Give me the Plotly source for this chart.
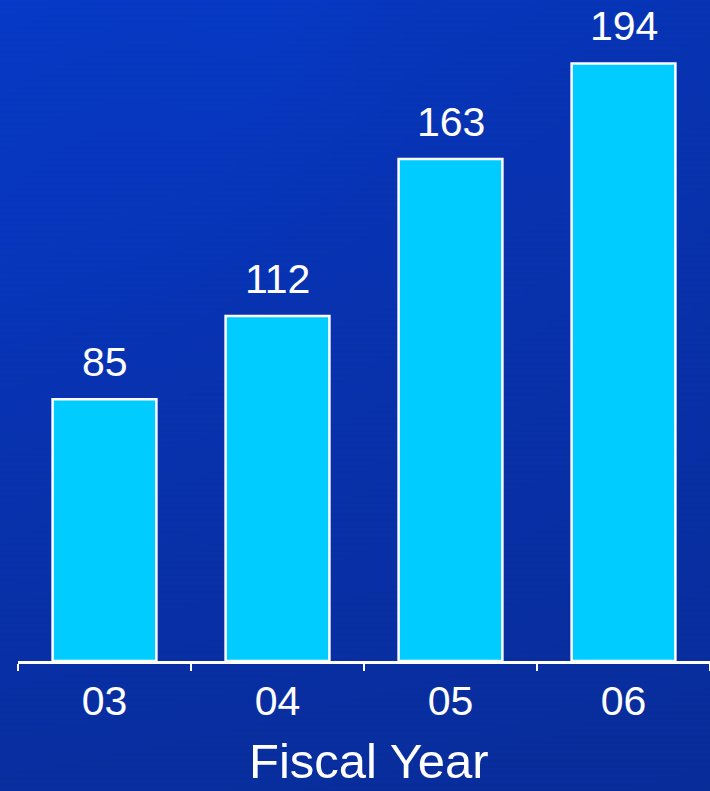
import numpy as np
import plotly.graph_objects as go

# ---- data ----
categories = ["03", "04", "05", "06"]
values = [85, 112, 163, 194]
x_title = "Fiscal Year"

W, H = 710, 791
FONT = "Liberation Sans, Arial, sans-serif"

# ---- background gradient (decorative) ----
ny, nx = 264, 60
yy = np.linspace(0, 1, ny)[:, None]
xx = np.linspace(0, 1, nx)[None, :]
z = 1.0 - 0.62 * yy ** 0.9 - 0.22 * xx * (1 - yy) - 0.08 * xx
r = np.sqrt((xx * 0.9) ** 2 + (yy * 1.1) ** 2)
z = z + 0.08 * np.exp(-((r - 0.35) / 0.12) ** 2) * (1 - yy)
stripes = np.where((np.arange(ny) % 2) == 0, 0.0, -0.035)[:, None]
z = np.clip(z + stripes, 0, 1)

fig = go.Figure()

fig.add_trace(go.Heatmap(
    z=z, x=np.linspace(0, 1, nx), y=np.linspace(0, 1, ny),
    xaxis="x", yaxis="y",
    colorscale=[[0, "rgb(9,40,135)"], [0.5, "rgb(8,48,168)"], [1, "rgb(6,58,200)"]],
    zmin=0, zmax=1, showscale=False, hoverinfo="skip", zsmooth=False,
))

fig.add_trace(go.Bar(
    x=categories, y=values, xaxis="x2", yaxis="y2",
    width=0.6,
    marker=dict(color="#00CCFF", line=dict(color="white", width=2.5)),
    hoverinfo="skip",
))

for i, v in enumerate(values):
    fig.add_annotation(
        x=i, y=v, xref="x2", yref="y2", text=str(v), showarrow=False,
        yanchor="bottom", yshift=12,
        font=dict(family=FONT, size=41, color="white"),
    )

# axis title placed as a paper annotation for precise positioning
fig.add_annotation(
    x=369 / W, y=(H - 761) / H, xref="paper", yref="paper",
    text=x_title, showarrow=False, xanchor="center", yanchor="middle",
    font=dict(family=FONT, size=49, color="white"),
)

fig.update_layout(
    width=W, height=H,
    margin=dict(l=0, r=0, t=0, b=0),
    paper_bgcolor="rgb(8,45,160)",
    plot_bgcolor="rgba(0,0,0,0)",
    showlegend=False,
    xaxis=dict(domain=[0, 1], range=[0, 1], visible=False, fixedrange=True),
    yaxis=dict(domain=[0, 1], range=[1, 0], visible=False, fixedrange=True),
    xaxis2=dict(
        domain=[18 / W, 1], anchor="y2", type="category",
        range=[-0.5, 3.5],
        showline=True, linecolor="white", linewidth=2.5,
        ticks="outside", tickson="boundaries", ticklen=7, tickwidth=2,
        tickcolor="white", showgrid=False, zeroline=False,
        tickfont=dict(family=FONT, size=41, color="white"),
        ticklabelstandoff=2,
    ),
    yaxis2=dict(
        domain=[130 / H, 1], anchor="x2", range=[0, 214.6],
        visible=False, showgrid=False, zeroline=False,
    ),
)

fig.write_html(
    "out.html",
    config={"displayModeBar": False},
    post_script="document.body.style.margin='0';document.body.style.overflow='hidden';",
)
